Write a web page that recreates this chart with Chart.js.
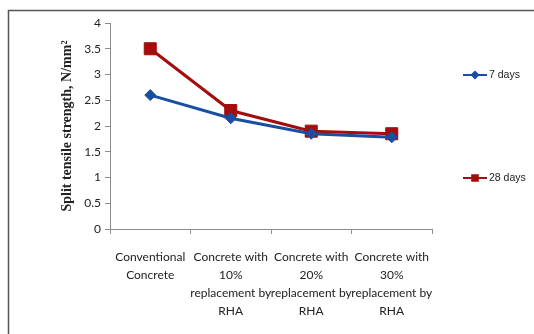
<!DOCTYPE html>
<html>
<head>
<meta charset="utf-8">
<script src="https://cdn.jsdelivr.net/npm/chart.js@4"></script>
<style>
  html, body { margin: 0; padding: 0; background: #fff; }
  #wrap { width: 534px; height: 334px; position: relative; }
</style>
</head>
<body>
<div id="wrap"><canvas id="splitChart" width="534" height="334"></canvas></div>
<script>
// data
const categories = [
  ["Conventional", "Concrete"],
  ["Concrete with", "10%", "replacement by", "RHA"],
  ["Concrete with", "20%", "replacement by", "RHA"],
  ["Concrete with", "30%", "replacement by", "RHA"]
];
const days7 = [2.6, 2.15, 1.85, 1.78];
const days28 = [3.5, 2.3, 1.9, 1.85];
const yTicks = [0, 0.5, 1, 1.5, 2, 2.5, 3, 3.5, 4];

const BLUE = "#1a4ea0";
const RED = "#a30d0d";
const AXIS = "#8c8c8c";

// frame around the figure (top + left edge like the screenshot)
const framePlugin = {
  id: "frame",
  beforeDraw(chart) {
    const c = chart.ctx;
    c.save();
    c.strokeStyle = "#555";
    c.lineWidth = 1.5;
    c.beginPath();
    c.moveTo(8.5, 334);
    c.lineTo(8.5, 10.5);
    c.lineTo(534, 10.5);
    c.stroke();
    c.restore();
  }
};

// legend drawn by hand, the two items are far apart in the original
const sideLegend = {
  id: "sideLegend",
  afterDraw(chart) {
    const c = chart.ctx;
    const rows = [75, 178];
    chart.data.datasets.forEach((ds, i) => {
      const y = rows[i];
      c.save();
      c.strokeStyle = ds.borderColor;
      c.lineWidth = 2;
      c.beginPath();
      c.moveTo(463, y);
      c.lineTo(487, y);
      c.stroke();
      c.fillStyle = ds.borderColor;
      Chart.helpers.drawPoint(c, {
        pointStyle: ds.pointStyle,
        radius: ds.pointStyle === "rect" ? 4 : 3.2,
        rotation: 0,
        borderWidth: 1
      }, 475, y);
      c.fillStyle = "#222";
      c.font = "10.5px 'Liberation Sans Narrow', 'Liberation Sans', sans-serif";
      c.textBaseline = "middle";
      c.textAlign = "left";
      c.fillText(ds.label, 489, y);
      c.restore();
    });
  }
};

const ctx = document.getElementById("splitChart").getContext("2d");
const splitChart = new Chart(ctx, {
  type: "line",
  data: {
    labels: categories,
    datasets: [
      {
        label: "7 days",
        data: days7,
        borderColor: BLUE,
        backgroundColor: BLUE,
        borderWidth: 3,
        pointStyle: "rectRot",
        pointRadius: 5.5,
        pointBorderWidth: 1,
        fill: false,
        tension: 0
      },
      {
        label: "28 days",
        data: days28,
        borderColor: RED,
        backgroundColor: RED,
        borderWidth: 3,
        pointStyle: "rect",
        pointRadius: 8.5,
        pointBorderWidth: 1,
        fill: false,
        tension: 0
      }
    ]
  },
  options: {
    responsive: false,
    animation: false,
    devicePixelRatio: 1,
    layout: { padding: { left: 0, right: 102, top: 23, bottom: 0 } },
    plugins: {
      legend: { display: false },
      tooltip: { enabled: false },
      title: { display: false }
    },
    scales: {
      x: {
        offset: true,
        grid: {
          offset: true,
          drawOnChartArea: false,
          tickLength: 5,
          color: AXIS
        },
        border: { color: AXIS, width: 1 },
        ticks: {
          autoSkip: false,
          maxRotation: 0,
          minRotation: 0,
          padding: 14,
          color: "#222",
          font: { family: "Lato, 'Liberation Sans', sans-serif", size: 12, lineHeight: 1.5 }
        },
        afterFit(scale) { scale.height = 105; }
      },
      y: {
        min: 0,
        max: 4,
        afterBuildTicks(scale) { scale.ticks = yTicks.map(v => ({ value: v })); },
        grid: {
          drawOnChartArea: false,
          tickLength: 5,
          color: AXIS
        },
        border: { color: AXIS, width: 1 },
        ticks: {
          padding: 4,
          color: "#222",
          font: { family: "Lato, 'Liberation Sans', sans-serif", size: 12 },
          callback: v => String(v)
        },
        title: {
          display: true,
          text: "Split tensile strength, N/mm²",
          color: "#222",
          padding: { top: 59, bottom: 0 },
          font: { family: "'Liberation Serif', 'DejaVu Serif', serif", size: 14, weight: "bold" }
        },
        afterFit(scale) { scale.width = 110; }
      }
    }
  },
  plugins: [framePlugin, sideLegend]
});
</script>
</body>
</html>
